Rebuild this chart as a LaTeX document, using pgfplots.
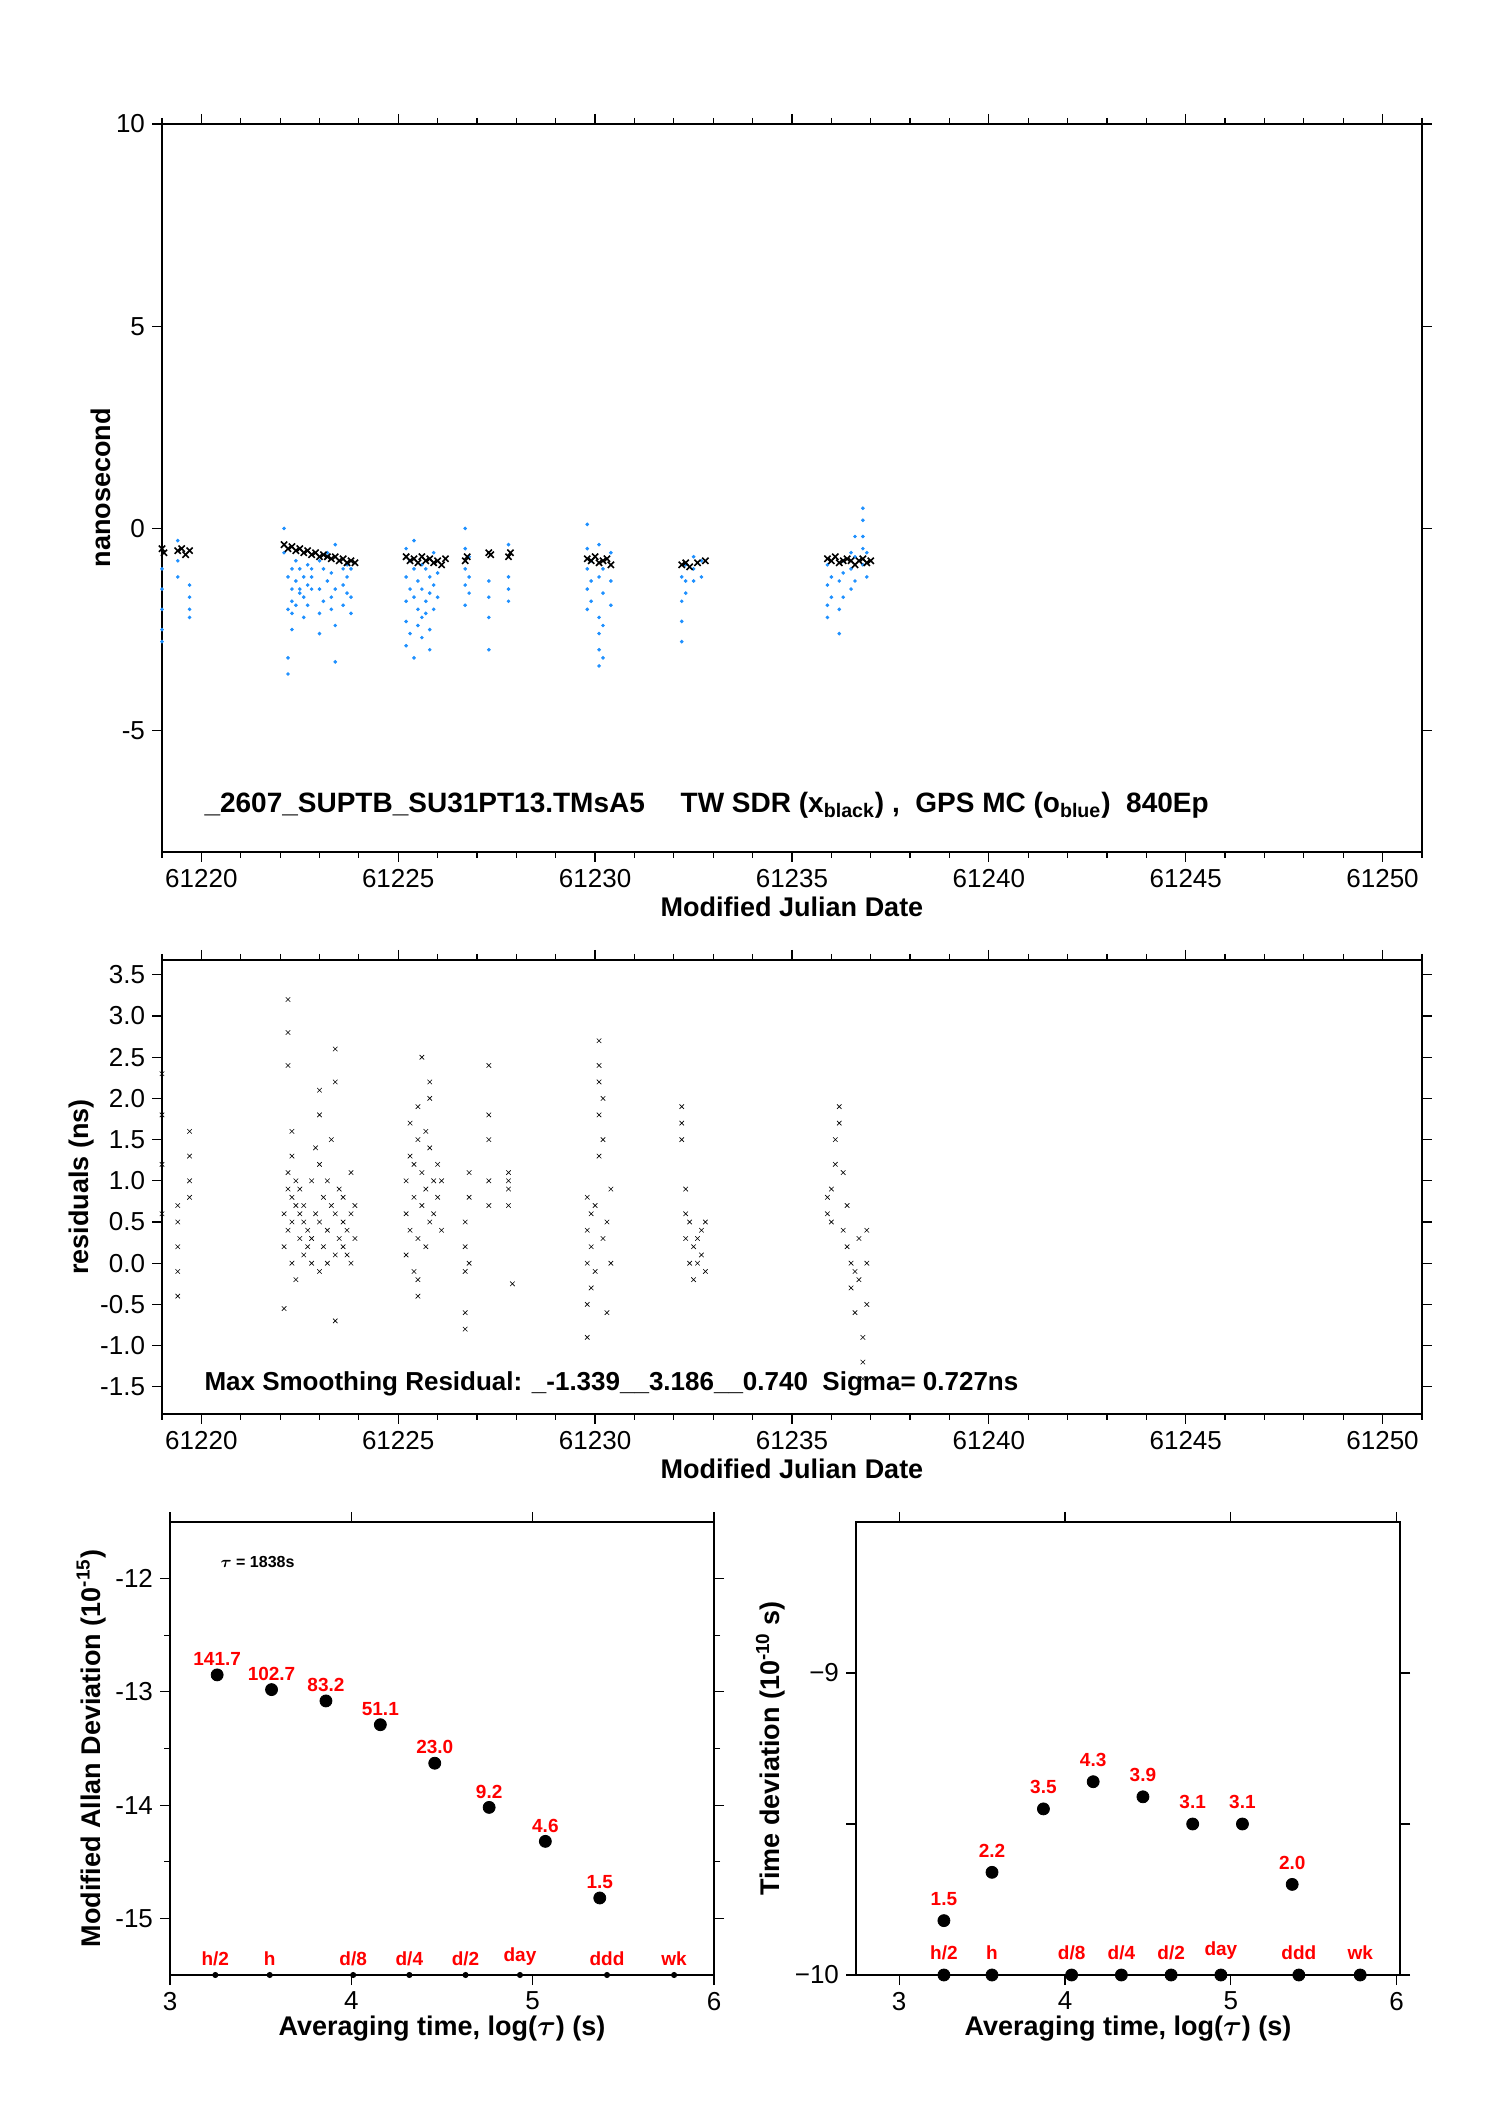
\documentclass[border=0pt]{standalone}
\usepackage{amsmath}
\usepackage{pgfplots}
\pgfplotsset{compat=1.18}
\usepackage{fontspec}
\setmainfont{Liberation Sans}
\begin{document}
\begin{tikzpicture}
\pgfplotsset{every axis/.style={scale only axis, anchor=south west, tick align=outside, axis line style={line width=0.6pt},
 tick style={line width=0.6pt, black}, major tick length=5pt, minor tick length=3pt,
 /pgf/number format/assume math mode=true, ticklabel style={font=\fontsize{13}{15}\selectfont},
 label style={font=\fontsize{13.5}{15}\selectfont\bfseries}, xtick pos=both, ytick pos=both},
 mjd/.style={xmin=61219, xmax=61251, width=630pt, xtick={61220,61225,...,61250}, minor xtick={61219,...,61251},
 scaled x ticks=false, xticklabel style={/pgf/number format/1000 sep={}, /pgf/number format/fixed, /pgf/number format/precision=0},
 xlabel={Modified Julian Date}, xlabel style={yshift=2pt}}}
\path[use as bounding box] (0,0) rectangle (744pt,1052.5pt);
% top
\begin{axis}[mjd, at={(81pt,626.5pt)}, height=364pt, ymin=-8, ymax=10, ytick={-5,0,5,10}, minor y tick num=0,
 ylabel={nanosecond}, ylabel style={yshift=-4pt}]
\addplot[only marks, mark=*, mark size=0.7pt, color={rgb,255:red,30;green,144;blue,255}] coordinates {
(61219.0,-1)(61219.0,-1.5)(61219.0,-2)(61219.0,-2.5)(61219.0,-2.8)
(61219.4,-0.3)(61219.4,-0.8)(61219.4,-1.2)
(61219.7,-1.4)(61219.7,-1.7)(61219.7,-2.0)(61219.7,-2.2)
(61222.1,0)(61222.1,-0.6)
(61222.2,-1.2)(61222.2,-2.0)(61222.2,-3.2)(61222.2,-3.6)
(61222.3,-1.0)(61222.3,-1.5)(61222.3,-1.8)(61222.3,-2.1)(61222.3,-2.5)
(61222.4,-0.8)(61222.4,-1.3)(61222.4,-1.9)
(61222.5,-1.0)(61222.5,-1.5)(61222.5,-1.6)
(61222.6,-1.2)(61222.6,-1.7)(61222.6,-2.2)
(61222.7,-0.9)(61222.7,-1.4)(61222.7,-1.9)
(61222.8,-1.0)(61222.8,-1.2)(61222.8,-1.5)
(61223.0,-0.8)(61223.0,-1.5)(61223.0,-2.1)(61223.0,-2.6)
(61223.1,-1.0)(61223.1,-1.8)
(61223.2,-0.6)(61223.2,-1.3)
(61223.3,-1.1)(61223.3,-1.7)(61223.3,-2.0)
(61223.4,-0.4)(61223.4,-1.5)(61223.4,-2.4)(61223.4,-3.3)
(61223.6,-1.0)(61223.6,-1.4)(61223.6,-1.9)
(61223.7,-0.9)(61223.7,-1.2)(61223.7,-1.6)
(61223.8,-1.0)(61223.8,-1.7)(61223.8,-2.1)
(61225.2,-0.5)(61225.2,-1.2)(61225.2,-1.8)(61225.2,-2.3)(61225.2,-2.9)
(61225.3,-0.8)(61225.3,-1.5)(61225.3,-2.6)
(61225.4,-0.3)(61225.4,-1.0)(61225.4,-1.7)(61225.4,-3.2)
(61225.5,-1.3)(61225.5,-2.0)(61225.5,-2.4)
(61225.6,-0.9)(61225.6,-1.5)(61225.6,-2.2)(61225.6,-2.7)
(61225.7,-1.0)(61225.7,-1.8)(61225.7,-2.1)
(61225.8,-1.2)(61225.8,-1.6)(61225.8,-2.5)(61225.8,-3.0)
(61225.9,-0.6)(61225.9,-1.4)(61225.9,-2.0)
(61226.0,-1.1)(61226.0,-1.7)
(61226.7,0.0)(61226.7,-0.5)(61226.7,-1.0)(61226.7,-1.4)(61226.7,-1.9)
(61226.8,-0.7)(61226.8,-1.2)(61226.8,-1.6)
(61227.3,-1.3)(61227.3,-1.7)(61227.3,-2.2)(61227.3,-3.0)
(61227.8,-0.4)(61227.8,-1.2)(61227.8,-1.5)(61227.8,-1.8)
(61229.8,0.1)(61229.8,-0.5)(61229.8,-1.0)(61229.8,-1.5)(61229.8,-2.0)
(61229.9,-0.8)(61229.9,-1.3)(61229.9,-1.8)
(61230.1,-0.4)(61230.1,-1.2)(61230.1,-2.2)(61230.1,-2.6)(61230.1,-3.0)(61230.1,-3.4)
(61230.2,-1.0)(61230.2,-1.6)(61230.2,-2.4)(61230.2,-3.2)
(61230.4,-0.6)(61230.4,-1.3)(61230.4,-1.9)
(61232.2,-1.2)(61232.2,-1.8)(61232.2,-2.3)(61232.2,-2.8)
(61232.3,-0.9)(61232.3,-1.3)(61232.3,-1.6)
(61232.5,-0.7)(61232.5,-1.0)(61232.5,-1.3)
(61232.7,-0.8)(61232.7,-1.2)
(61235.9,-0.9)(61235.9,-1.4)(61235.9,-1.9)(61235.9,-2.2)
(61236.0,-1.2)(61236.0,-1.7)
(61236.2,-1.3)(61236.2,-2.0)(61236.2,-2.6)
(61236.3,-0.8)(61236.3,-1.1)(61236.3,-1.7)
(61236.5,-0.6)(61236.5,-1.0)(61236.5,-1.5)
(61236.6,-0.2)(61236.6,-0.7)(61236.6,-1.3)
(61236.8,0.5)(61236.8,0.2)(61236.8,-0.2)(61236.8,-0.5)(61236.8,-0.9)
(61236.9,-0.6)(61236.9,-1.2)
};
\addplot[only marks, mark=x, mark size=2.2pt, black, line width=0.8pt] coordinates {
(61219.0,-0.5)(61219.05,-0.6)(61219.4,-0.55)(61219.5,-0.5)(61219.6,-0.65)(61219.7,-0.55)
(61222.1,-0.4)(61222.2,-0.5)(61222.3,-0.45)(61222.4,-0.55)(61222.5,-0.5)(61222.6,-0.6)(61222.7,-0.55)(61222.8,-0.65)(61222.9,-0.6)(61223.0,-0.7)(61223.1,-0.65)(61223.2,-0.7)(61223.3,-0.75)(61223.4,-0.7)(61223.5,-0.8)(61223.6,-0.75)(61223.7,-0.85)(61223.8,-0.8)(61223.9,-0.85)
(61225.2,-0.7)(61225.3,-0.8)(61225.4,-0.75)(61225.5,-0.85)(61225.6,-0.7)(61225.7,-0.8)(61225.8,-0.75)(61225.9,-0.85)(61226.0,-0.8)(61226.1,-0.9)(61226.2,-0.75)
(61226.7,-0.8)(61226.75,-0.7)(61227.3,-0.6)(61227.35,-0.65)(61227.8,-0.7)(61227.85,-0.6)
(61229.8,-0.75)(61229.9,-0.8)(61230.0,-0.7)(61230.1,-0.85)(61230.2,-0.8)(61230.3,-0.75)(61230.4,-0.9)
(61232.2,-0.9)(61232.3,-0.85)(61232.4,-0.95)(61232.6,-0.85)(61232.8,-0.8)
(61235.9,-0.75)(61236.0,-0.8)(61236.1,-0.7)(61236.2,-0.85)(61236.3,-0.8)(61236.4,-0.75)(61236.5,-0.8)(61236.6,-0.9)(61236.7,-0.8)(61236.8,-0.75)(61236.9,-0.85)(61237.0,-0.8)
};
\node[anchor=west, font=\fontsize{14}{16}\selectfont\bfseries] at (axis cs:61219.9,-6.85) {\_2607\_SUPTB\_SU31PT13.TMsA5\quad\ TW SDR (x\textsubscript{black}) ,\ \ GPS MC (o\textsubscript{blue})\ \ 840Ep};
\end{axis}
% middle
\begin{axis}[mjd, at={(81pt,345.5pt)}, height=227pt, ymin=-1.83, ymax=3.68, ytick={-1.5,-1,...,3.5},
 yticklabel style={/pgf/number format/fixed, /pgf/number format/fixed zerofill, /pgf/number format/precision=1},
 ylabel={residuals (ns)}, ylabel style={yshift=-4pt}]
\addplot[only marks, mark=x, mark size=1.6pt, black, line width=0.3pt] coordinates {
(61219.0,0.6)(61219.0,1.2)(61219.0,1.8)(61219.0,2.3)
(61219.4,-0.4)(61219.4,-0.1)(61219.4,0.2)(61219.4,0.5)(61219.4,0.7)
(61219.7,0.8)(61219.7,1.0)(61219.7,1.3)(61219.7,1.6)
(61222.1,-0.55)(61222.1,0.2)(61222.1,0.6)(61222.2,0.9)(61222.2,2.4)(61222.2,2.8)(61222.2,3.2)(61222.2,1.1)(61222.2,0.4)
(61222.3,0.0)(61222.3,0.5)(61222.3,0.8)(61222.3,1.3)(61222.3,1.6)(61222.4,-0.2)(61222.4,0.7)(61222.4,1.0)
(61222.5,0.3)(61222.5,0.6)(61222.5,0.9)(61222.6,0.1)(61222.6,0.5)(61222.6,0.7)(61222.7,0.4)(61222.7,0.2)
(61222.8,1.0)(61222.8,0.0)(61222.8,0.3)(61222.9,0.6)(61222.9,1.4)(61223.0,-0.1)(61223.0,0.5)(61223.0,1.2)(61223.0,1.8)(61223.0,2.1)
(61223.1,0.2)(61223.1,0.8)(61223.2,0.0)(61223.2,0.4)(61223.2,1.0)(61223.3,1.5)(61223.3,0.7)(61223.4,-0.7)(61223.4,0.1)(61223.4,0.6)(61223.4,2.2)(61223.4,2.6)
(61223.5,0.3)(61223.5,0.9)(61223.6,0.2)(61223.6,0.5)(61223.6,0.8)(61223.7,0.1)(61223.7,0.4)(61223.8,0.0)(61223.8,0.6)(61223.8,1.1)(61223.9,0.3)(61223.9,0.7)
(61225.2,0.1)(61225.2,0.6)(61225.2,1.0)(61225.3,1.3)(61225.3,1.7)(61225.3,0.4)(61225.4,-0.1)(61225.4,0.8)(61225.4,1.2)
(61225.5,-0.4)(61225.5,-0.2)(61225.5,0.3)(61225.5,1.5)(61225.5,1.9)(61225.6,0.7)(61225.6,1.1)(61225.6,2.5)(61225.7,0.2)(61225.7,0.9)(61225.7,1.6)
(61225.8,2.2)(61225.8,2.0)(61225.8,1.4)(61225.8,0.5)(61225.9,1.0)(61225.9,0.6)(61226.0,1.2)(61226.0,0.8)(61226.1,0.4)(61226.1,1.0)
(61226.7,-0.8)(61226.7,-0.6)(61226.7,-0.1)(61226.7,0.2)(61226.7,0.5)(61226.8,0.8)(61226.8,1.1)(61226.8,0.0)
(61227.3,0.7)(61227.3,1.0)(61227.3,1.5)(61227.3,1.8)(61227.3,2.4)
(61227.8,0.7)(61227.8,0.9)(61227.8,1.0)(61227.8,1.1)(61227.9,-0.25)
(61229.8,-0.9)(61229.8,-0.5)(61229.8,0.0)(61229.8,0.4)(61229.8,0.8)(61229.9,0.6)(61229.9,-0.3)(61229.9,0.2)(61230.0,0.7)(61230.0,-0.1)
(61230.1,1.3)(61230.1,1.8)(61230.1,2.2)(61230.1,2.4)(61230.1,2.7)(61230.2,1.5)(61230.2,2.0)(61230.2,0.3)(61230.3,0.5)(61230.3,-0.6)(61230.4,0.9)(61230.4,0.0)
(61232.2,1.5)(61232.2,1.7)(61232.2,1.9)(61232.3,0.9)(61232.3,0.6)(61232.3,0.3)(61232.4,0.0)(61232.4,0.5)(61232.5,-0.2)(61232.5,0.2)
(61232.6,0.3)(61232.6,0.0)(61232.7,0.4)(61232.7,0.1)(61232.8,0.5)(61232.8,-0.1)
(61235.9,0.8)(61235.9,0.6)(61236.0,0.9)(61236.0,0.5)(61236.1,1.2)(61236.1,1.5)(61236.2,1.7)(61236.2,1.9)(61236.3,1.1)(61236.3,0.4)(61236.4,0.7)(61236.4,0.2)
(61236.5,0.0)(61236.5,-0.3)(61236.6,-0.1)(61236.6,-0.6)(61236.7,0.3)(61236.7,-0.2)(61236.8,-0.9)(61236.8,-1.2)(61236.8,-1.4)(61236.9,0.4)(61236.9,-0.5)(61236.9,0.0)
};
\node[anchor=west, font=\fontsize{13}{15}\selectfont\bfseries] at (axis cs:61219.9,-1.47) {Max Smoothing Residual: \_-1.339\_\_3.186\_\_0.740\ \ Sigma= 0.727ns};
\end{axis}
% bottom left
\begin{axis}[at={(85pt,65pt)}, width=272pt, height=226.5pt, xmin=3, xmax=6, ymin=-15.5, ymax=-11.5,
 xtick={3,4,5,6}, minor x tick num=0, ytick={-15,-14,-13,-12}, minor y tick num=1,
 xlabel={Averaging time, log($\boldsymbol{\tau}$) (s)}, ylabel={Modified Allan Deviation (10\textsuperscript{-15})},
 xlabel style={yshift=4pt}, ylabel style={yshift=-2pt},
 nodes near coords, point meta=explicit symbolic,
 every node near coord/.style={font=\fontsize{9.5}{11}\selectfont\bfseries, red, anchor=south, yshift=1pt}]
\addplot[only marks, mark=*, mark size=3pt, black] table[meta=l] {
x y l
3.26 -12.85 141.7
3.56 -12.98 102.7
3.86 -13.08 83.2
4.16 -13.29 51.1
4.46 -13.63 23.0
4.76 -14.02 9.2
5.07 -14.32 4.6
5.37 -14.82 1.5
};
\addplot[only marks, mark=*, mark size=1.3pt, black] table[meta=l] {
x y l
3.25 -15.5 h/2
3.55 -15.5 h
4.01 -15.5 d/8
4.32 -15.5 d/4
4.63 -15.5 d/2
4.93 -15.5 day
5.41 -15.5 ddd
5.78 -15.5 wk
};
\node[anchor=west, font=\fontsize{8}{10}\selectfont\bfseries] at (axis cs:3.24,-11.85) {$\boldsymbol{\tau}$ = 1838s};
\end{axis}
% bottom right
\begin{axis}[at={(428pt,65pt)}, width=272pt, height=226.5pt, xmin=2.74, xmax=6.02, ymin=-10, ymax=-8.5,
 xtick={3,4,5,6}, minor x tick num=0, ytick={-10,-9.5,-9}, yticklabels={−10,,−9},
 xlabel={Averaging time, log($\boldsymbol{\tau}$) (s)}, ylabel={Time deviation (10\textsuperscript{-10} s)},
 xlabel style={yshift=4pt}, ylabel style={yshift=-2pt}, clip=false,
 nodes near coords, point meta=explicit symbolic,
 every node near coord/.style={font=\fontsize{9.5}{11}\selectfont\bfseries, red, anchor=south, yshift=4pt}]
\addplot[only marks, mark=*, mark size=3pt, black] table[meta=l] {
x y l
3.27 -9.82 1.5
3.56 -9.66 2.2
3.87 -9.45 3.5
4.17 -9.36 4.3
4.47 -9.41 3.9
4.77 -9.50 3.1
5.07 -9.50 3.1
5.37 -9.70 2.0
};
\addplot[only marks, mark=*, mark size=3pt, black] table[meta=l] {
x y l
3.27 -10 h/2
3.56 -10 h
4.04 -10 d/8
4.34 -10 d/4
4.64 -10 d/2
4.94 -10 day
5.41 -10 ddd
5.78 -10 wk
};
\end{axis}
\end{tikzpicture}
\end{document}
